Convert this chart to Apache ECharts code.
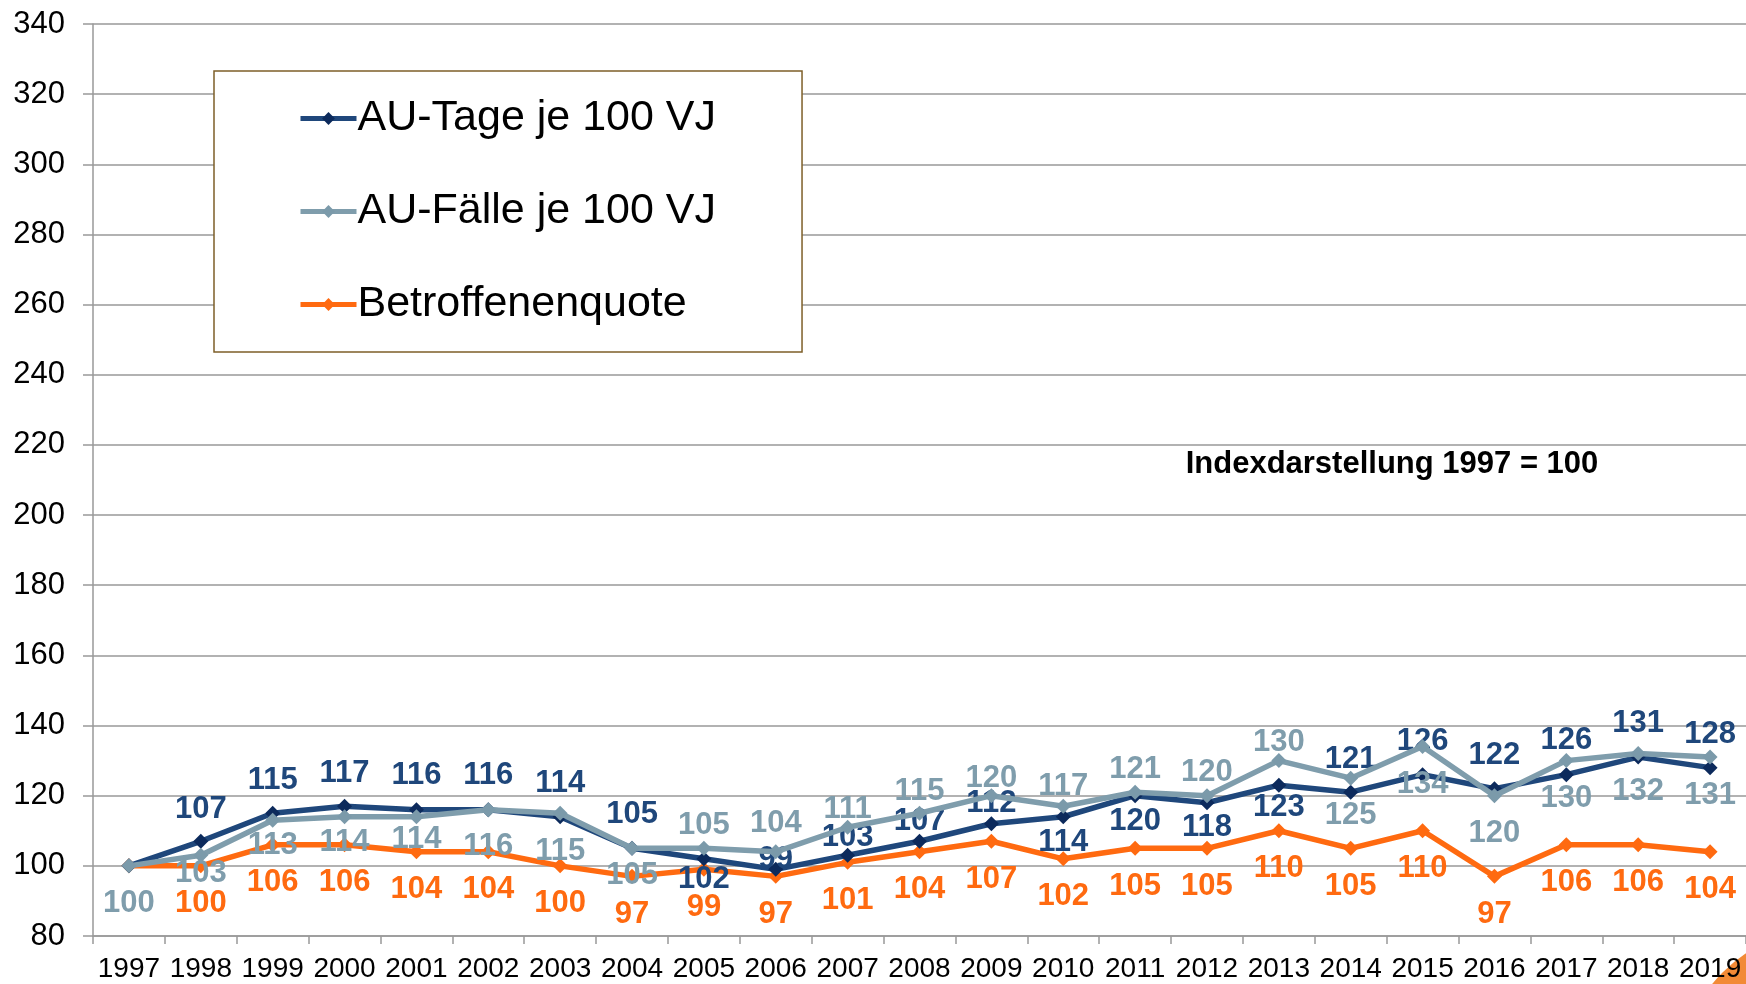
<!DOCTYPE html>
<html>
<head>
<meta charset="utf-8">
<script src="https://cdn.jsdelivr.net/npm/echarts@6/dist/echarts.min.js"></script>
<style>
  html, body { margin: 0; padding: 0; background: #fff; }
  #chart { width: 1746px; height: 984px; }
</style>
</head>
<body>
<div id="chart"></div>
<script>
const years = ["1997","1998","1999","2000","2001","2002","2003","2004","2005","2006","2007","2008",
  "2009","2010","2011","2012","2013","2014","2015","2016","2017","2018","2019"];
const auTage = [100,107,115,117,116,116,114,105,102,99,103,107,112,114,120,118,123,121,126,122,126,131,128];
const auFaelle = [100,103,113,114,114,116,115,105,105,104,111,115,120,117,121,120,130,125,134,120,130,132,131];
const betroffene = [100,100,106,106,104,104,100,97,99,97,101,104,107,102,105,105,110,105,110,97,106,106,104];
const yTicks = { min: 80, max: 340, interval: 20 };

// label vertical offsets (px, label centre relative to point), as placed in the original
const tageLabelDy = [0,-32,-33,-33,-34,-34,-33,-34,21,-10,-18,-20,-20,26,26,25,22,-33,-33,-33,-34,-34,-33];
const faelleLabelDy = [38,18,25,26,23,37,38,27,-23,-28,-18,-22,-17,-20,-23,-23,-18,37,38,38,38,38,38];
const betroffeneLabelDy = 38;

(function () {
  const myChart = echarts.init(document.getElementById("chart"));
  const font = "'Liberation Sans', Arial, sans-serif";

  function withLabels(values, dy, color, hideFirst) {
    return values.map(function (v, i) {
      const off = Array.isArray(dy) ? dy[i] : dy;
      return {
        value: v,
        label: {
          show: !(hideFirst && i === 0),
          position: "inside",
          offset: [0, off],
          color: color,
          fontSize: 31,
          fontWeight: "bold",
          fontFamily: font
        }
      };
    });
  }

  const option = {
    animation: false,
    backgroundColor: "#fff",
    grid: { left: 93, right: -2, top: 24, bottom: 48, containLabel: false },
    legend: {
      orient: "vertical",
      left: 214,
      top: 71,
      padding: [24, 86, 24, 84],
      itemWidth: 56,
      itemHeight: 16,
      itemGap: 46,
      backgroundColor: "#fff",
      borderColor: "#7e5f28",
      borderWidth: 1.5,
      borderRadius: 0,
      lineStyle: { width: 5 },
      textStyle: { fontSize: 43, color: "#000", fontFamily: font, lineHeight: 47, padding: [0, 0, 0, -4] },
      data: ["AU-Tage je 100 VJ", "AU-Fälle je 100 VJ", "Betroffenenquote"]
    },
    xAxis: {
      type: "category",
      data: years,
      boundaryGap: true,
      axisLine: { lineStyle: { color: "#999", width: 1.5 } },
      axisTick: { show: true, length: 8, lineStyle: { color: "#999", width: 1.5 } },
      axisLabel: { color: "#000", fontSize: 28, fontFamily: font, margin: 19, interval: 0, hideOverlap: false }
    },
    yAxis: {
      type: "value",
      min: yTicks.min,
      max: yTicks.max,
      interval: yTicks.interval,
      axisLine: { show: true, lineStyle: { color: "#999", width: 1.5 } },
      axisTick: { show: true, length: 10, lineStyle: { color: "#999", width: 1.5 } },
      axisLabel: { color: "#000", fontSize: 31, fontFamily: font, margin: 28 },
      splitLine: { lineStyle: { color: "#999", width: 1.5 } }
    },
    graphic: [
      {
        type: "text",
        x: 1392,
        y: 464,
        style: {
          text: "Indexdarstellung 1997 = 100",
          font: "bold 31px 'Liberation Sans', Arial, sans-serif",
          fill: "#000",
          textAlign: "center",
          textVerticalAlign: "middle"
        }
      },
      {
        type: "circle",
        shape: { cx: 1830, cy: 1080, r: 152 },
        style: { fill: "#f28a36" },
        silent: true
      }
    ],
    series: [
      {
        name: "AU-Tage je 100 VJ",
        type: "line",
        data: withLabels(auTage, tageLabelDy, "#1f477b", true),
        symbol: "diamond",
        symbolSize: 15,
        lineStyle: { color: "#1f477b", width: 5.5 },
        itemStyle: { color: "#0c2a5c" },
        z: 3
      },
      {
        name: "AU-Fälle je 100 VJ",
        type: "line",
        data: withLabels(auFaelle, faelleLabelDy, "#7f9dac", false),
        symbol: "diamond",
        symbolSize: 15,
        lineStyle: { color: "#7f9dac", width: 5.5 },
        itemStyle: { color: "#7b9aaa" },
        z: 4
      },
      {
        name: "Betroffenenquote",
        type: "line",
        data: withLabels(betroffene, betroffeneLabelDy, "#ff6a10", true),
        symbol: "diamond",
        symbolSize: 15,
        lineStyle: { color: "#ff6a10", width: 5.5 },
        itemStyle: { color: "#ff6a10" },
        z: 2
      }
    ]
  };

  myChart.setOption(option);

  window.addEventListener("resize", function () {
    myChart.resize();
  });
})();
</script>
</body>
</html>
